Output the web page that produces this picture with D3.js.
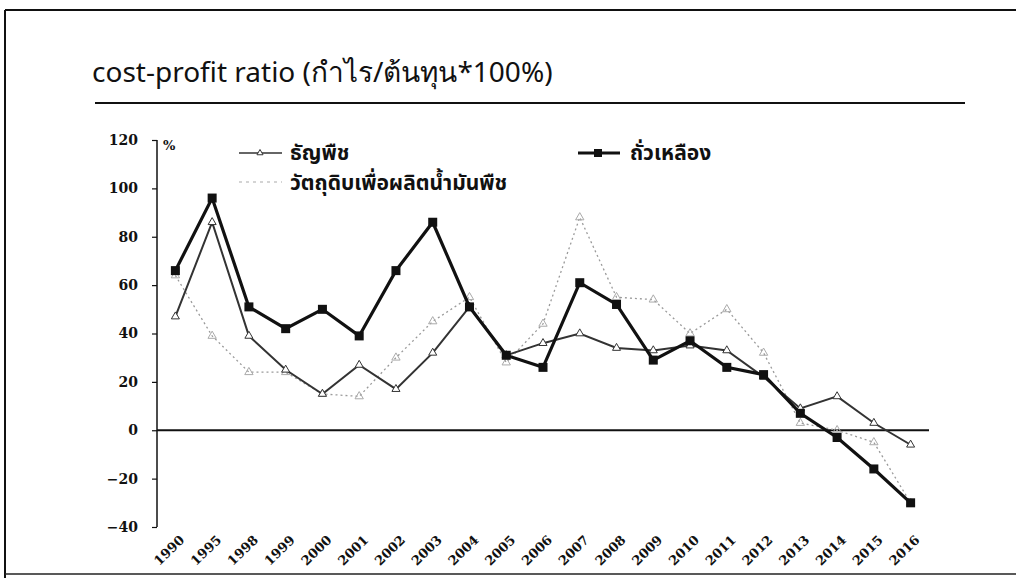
<!DOCTYPE html>
<html>
<head>
<meta charset="utf-8">
<script src="https://cdn.jsdelivr.net/npm/d3@7"></script>
<style>
  html, body { margin: 0; background: #fff; overflow: hidden; }
  svg { display: block; }
</style>
</head>
<body>
<script>
// - - - - - - DATA
var years = ["1990","1995","1998","1999","2000","2001","2002","2003","2004","2005","2006",
             "2007","2008","2009","2010","2011","2012","2013","2014","2015","2016"];
var cereal  = [47, 86, 39, 25, 15, 27, 17, 32, 51, 31, 36, 40, 34, 33, 35, 33, 22, 9, 14, 3, -6];
var oilseed = [64, 39, 24, 24, 15, 14, 30, 45, 55, 28, 44, 88, 55, 54, 40, 50, 32, 3, 0, -5, -30];
var soybean = [66, 96, 51, 42, 50, 39, 66, 86, 51, 31, 26, 61, 52, 29, 37, 26, 23, 7, -3, -16, -30];
var yTicks  = [120, 100, 80, 60, 40, 20, 0, -20, -40];

var titleText = "cost-profit ratio (กำไร/ต้นทุน*100%)";
var names = { cereal: "ธัญพืช", oilseed: "วัตถุดิบเพื่อผลิตน้ำมันพืช", soybean: "ถั่วเหลือง" };

var W = 1016, H = 578;
var svg = d3.select("body").append("svg").attr("width", W).attr("height", H);

// frame
svg.append("line").attr("x1", 5).attr("x2", W).attr("y1", 10).attr("y2", 10)
  .attr("stroke", "#111").attr("stroke-width", 2);
svg.append("line").attr("x1", 5).attr("x2", 5).attr("y1", 10).attr("y2", H)
  .attr("stroke", "#111").attr("stroke-width", 2);
svg.append("line").attr("x1", 5).attr("x2", W).attr("y1", 574).attr("y2", 574)
  .attr("stroke", "#222").attr("stroke-width", 1.5);

// title + rule
svg.append("text").attr("x", 92).attr("y", 82)
  .style("font-family", "'Noto Sans', 'Open Sans', sans-serif")
  .style("font-size", "28px").attr("fill", "#111").text(titleText);
svg.append("line").attr("x1", 95).attr("x2", 965).attr("y1", 103).attr("y2", 103)
  .attr("stroke", "#111").attr("stroke-width", 2);

// scales
var x = d3.scaleBand().domain(years).range([157, 929]);
var y = d3.scaleLinear().domain([-40, 120]).range([527, 140]);
var cx = function(d, i) { return x(years[i]) + x.bandwidth() / 2; };

var tickFont = "'DejaVu Serif', serif";

// y axis
var yAxis = svg.append("g").attr("transform", "translate(157,0)")
  .call(d3.axisLeft(y).tickValues(yTicks).tickSize(5).tickPadding(14));
yAxis.select(".domain").attr("stroke", "#111").attr("stroke-width", 1.5).attr("d", "M0," + y(120) + "V" + y(-40));
yAxis.selectAll(".tick line").attr("stroke", "#111").attr("stroke-width", 1.2);
yAxis.selectAll(".tick text").style("font-family", tickFont).style("font-weight", "bold")
  .style("font-size", "14px").attr("fill", "#111");

svg.append("text").attr("x", 163).attr("y", 150)
  .style("font-family", tickFont).style("font-weight", "bold").style("font-size", "13px")
  .attr("fill", "#111").text("%");

// zero line
svg.append("line").attr("x1", 157).attr("x2", 929).attr("y1", y(0)).attr("y2", y(0))
  .attr("stroke", "#111").attr("stroke-width", 2);

// x labels
svg.append("g").selectAll("text").data(years).enter().append("text")
  .attr("transform", function(d) {
    return "translate(" + (x(d) + x.bandwidth() / 2 + 10) + ",541) rotate(-44)";
  })
  .style("font-family", tickFont).style("font-weight", "bold").style("font-size", "13px")
  .attr("text-anchor", "end").attr("fill", "#111").text(function(d) { return d; });

var line = d3.line().x(cx).y(function(d) { return y(d); });
var tri = d3.symbol().type(d3.symbolTriangle);

// oilseed (grey dotted)
svg.append("path").datum(oilseed).attr("d", line).attr("fill", "none")
  .attr("stroke", "#9a9a9a").attr("stroke-width", 1.3).attr("stroke-dasharray", "2,3");
svg.append("g").selectAll("path").data(oilseed).enter().append("path")
  .attr("d", tri.size(30))
  .attr("transform", function(d, i) { return "translate(" + cx(d, i) + "," + y(d) + ")"; })
  .attr("fill", "none").attr("stroke", "#aaa").attr("stroke-width", 1);

// cereal (thin dark)
svg.append("path").datum(cereal).attr("d", line).attr("fill", "none")
  .attr("stroke", "#333").attr("stroke-width", 2);
svg.append("g").selectAll("path").data(cereal).enter().append("path")
  .attr("d", tri.size(28))
  .attr("transform", function(d, i) { return "translate(" + cx(d, i) + "," + y(d) + ")"; })
  .attr("fill", "#fff").attr("stroke", "#333").attr("stroke-width", 1);

// soybean (thick black squares)
svg.append("path").datum(soybean).attr("d", line).attr("fill", "none")
  .attr("stroke", "#111").attr("stroke-width", 3.2);
svg.append("g").selectAll("rect").data(soybean).enter().append("rect")
  .attr("x", function(d, i) { return cx(d, i) - 4.5; })
  .attr("y", function(d) { return y(d) - 4.5; })
  .attr("width", 9).attr("height", 9).attr("fill", "#111");

// legend
var legFont = "'Noto Sans', 'Noto Sans Thai', Tahoma, sans-serif";
var lg = svg.append("g");
lg.append("line").attr("x1", 239).attr("x2", 282).attr("y1", 153).attr("y2", 153)
  .attr("stroke", "#333").attr("stroke-width", 1.5);
lg.append("path").attr("d", tri.size(16)).attr("transform", "translate(260,153)")
  .attr("fill", "#fff").attr("stroke", "#333");
lg.append("text").attr("x", 290).attr("y", 160).style("font-family", legFont)
  .style("font-weight", "bold").style("font-size", "21px").attr("fill", "#111").text(names.cereal);

lg.append("line").attr("x1", 239).attr("x2", 282).attr("y1", 182).attr("y2", 182)
  .attr("stroke", "#aaa").attr("stroke-width", 1.2).attr("stroke-dasharray", "3,4");
lg.append("text").attr("x", 290).attr("y", 190).style("font-family", legFont)
  .style("font-weight", "bold").style("font-size", "21px").attr("fill", "#111").text(names.oilseed);

lg.append("line").attr("x1", 578).attr("x2", 620).attr("y1", 153).attr("y2", 153)
  .attr("stroke", "#111").attr("stroke-width", 3);
lg.append("rect").attr("x", 594).attr("y", 149).attr("width", 8).attr("height", 8).attr("fill", "#111");
lg.append("text").attr("x", 630).attr("y", 160).style("font-family", legFont)
  .style("font-weight", "bold").style("font-size", "21px").attr("fill", "#111").text(names.soybean);
</script>
</body>
</html>
